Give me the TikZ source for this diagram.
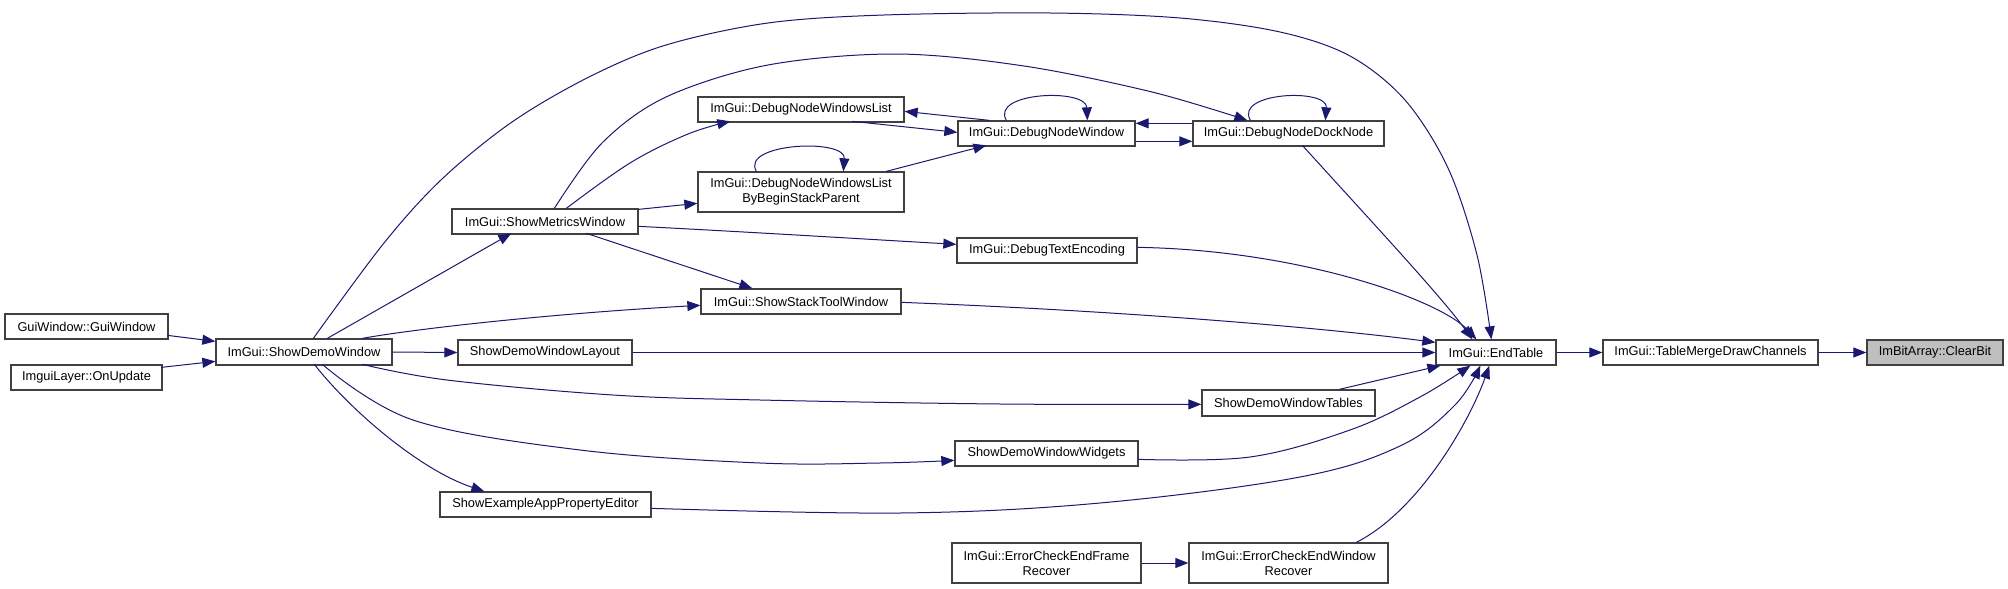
\documentclass[tikz,border=0pt]{standalone}
\usepackage{fontspec}
\setmainfont{Liberation Sans}
\usetikzlibrary{arrows.meta,calc}
\definecolor{edgec}{HTML}{191970}
\definecolor{boxc}{HTML}{404040}
\definecolor{hilite}{HTML}{BFBFBF}
\tikzset{
 box/.style={draw=boxc, line width=1.3pt, fill=white, inner sep=0pt, align=center, font=\fontsize{12.8}{15}\selectfont},
 edge/.style={draw=edgec, line width=1pt, -{Triangle[length=13pt,width=10pt]}},
}
\begin{document}
\begin{tikzpicture}[x=1pt,y=-1pt]
\useasboundingbox (0,0) rectangle (2008,589);
% nodes
\node[box, minimum width=163pt, minimum height=25pt] (gw) at (86.5,326.5) {GuiWindow::GuiWindow};
\node[box, minimum width=151pt, minimum height=25pt] (iu) at (86.5,377.5) {ImguiLayer::OnUpdate};
\node[box, minimum width=176pt, minimum height=26pt] (sdw) at (304,352) {ImGui::ShowDemoWindow};
\node[box, minimum width=186pt, minimum height=25pt] (smw) at (545,221.5) {ImGui::ShowMetricsWindow};
\node[box, minimum width=206pt, minimum height=25pt] (dnwl) at (801,109.5) {ImGui::DebugNodeWindowsList};
\node[box, minimum width=206pt, minimum height=40pt] (dnwlb) at (801,192) {ImGui::DebugNodeWindowsList\\ByBeginStackParent};
\node[box, minimum width=177pt, minimum height=25pt] (dnw) at (1046.5,133.5) {ImGui::DebugNodeWindow};
\node[box, minimum width=191pt, minimum height=25pt] (dndn) at (1288.5,133.5) {ImGui::DebugNodeDockNode};
\node[box, minimum width=180pt, minimum height=25pt] (dte) at (1047,250.5) {ImGui::DebugTextEncoding};
\node[box, minimum width=200pt, minimum height=25pt] (sstw) at (801,301.5) {ImGui::ShowStackToolWindow};
\node[box, minimum width=174pt, minimum height=25pt] (sdwl) at (545,352.5) {ShowDemoWindowLayout};
\node[box, minimum width=211pt, minimum height=25pt] (seape) at (545.5,504.5) {ShowExampleAppPropertyEditor};
\node[box, minimum width=173pt, minimum height=26pt] (sdwt) at (1288.5,403) {ShowDemoWindowTables};
\node[box, minimum width=183pt, minimum height=25pt] (sdww) at (1046.5,453.5) {ShowDemoWindowWidgets};
\node[box, minimum width=189pt, minimum height=40pt] (ecefr) at (1046.5,563) {ImGui::ErrorCheckEndFrame\\Recover};
\node[box, minimum width=199pt, minimum height=40pt] (ecewr) at (1288.5,563) {ImGui::ErrorCheckEndWindow\\Recover};
\node[box, minimum width=120pt, minimum height=25pt] (et) at (1496,352.5) {ImGui::EndTable};
\node[box, minimum width=215pt, minimum height=25pt] (tmdc) at (1710.5,352.5) {ImGui::TableMergeDrawChannels};
\node[box, fill=hilite, minimum width=136pt, minimum height=25pt] (cb) at (1935,352.5) {ImBitArray::ClearBit};
% helper coordinates
\coordinate (sA) at ($(sdw.north west)+(98,0)$);
\coordinate (eA) at ($(et.north west)+(56,0)$);
\coordinate (sB) at ($(smw.north west)+(103,0)$);
\coordinate (eB) at ($(dndn.north west)+(55,0)$);
\coordinate (sC) at ($(smw.north west)+(115,0)$);
\coordinate (eC) at ($(dnwl.north west)+(33,25)$);
\coordinate (sT) at ($(sdw.north west)+(147,26)$);
\coordinate (eT) at ($(sdwt.north west)+(0,15)$);
\coordinate (sW) at ($(sdw.north west)+(107,26)$);
\coordinate (eW) at ($(sdww.north west)+(0,20)$);
\coordinate (sP) at ($(seape.north east)+(0,17)$);
\coordinate (eP) at ($(et.south west)+(45,0)$);
\coordinate (sWE) at ($(sdww.north east)+(0,19)$);
\coordinate (eWE) at ($(et.south west)+(35,0)$);
% edges
\draw[edge] ($(gw.north west)+(163,22)$) -- ($(sdw.north west)+(0,3)$);
\draw[edge] ($(iu.north west)+(151,3)$) -- ($(sdw.north west)+(0,23)$);
\draw[edge] ($(sdw.north west)+(112,0)$) -- ($(smw.north west)+(60,25)$);
\draw[edge] plot[smooth, tension=0.55] coordinates {(sA) (384,243) (442,179) (512,122) (589,77) (666,45) (768,23) (884,15) (1050,13) (1180,18) (1280,32) (1350,56) (1405,100) (1448,168) (1477,255) (eA)};
\draw[edge] plot[smooth, tension=0.55] coordinates {(sB) (602,143) (666,97) (768,65) (896,54) (1024,66) (1152,92) (eB)};
\draw[edge] plot[smooth, tension=0.6] coordinates {(sC) (630,163) (688,134) (eC)};
\draw[edge] ($(sdw.north west)+(147,0)$) .. controls (420,328) and (560,313) .. ($(sstw.north west)+(0,17)$);
\draw[edge] (sdw.east) -- (sdwl.west);
\draw[edge] plot[smooth, tension=0.6] coordinates {(sT) (447,380) (613,395) (760,400) (1000,404) (eT)};
\draw[edge] plot[smooth, tension=0.6] coordinates {(sW) (413,420) (580,450) (760,463) (880,463) (eW)};
\draw[edge] ($(sdw.north west)+(99,26)$) .. controls (350,410) and (420,470) .. ($(seape.north west)+(45,0)$);
\draw[edge] ($(smw.north east)+(0,1)$) -- ($(dnwlb.north west)+(0,32)$);
\draw[edge] ($(smw.north east)+(0,18)$) .. controls (750,232) and (880,240) .. ($(dte.north west)+(0,7)$);
\draw[edge] ($(smw.north west)+(135,25)$) -- ($(sstw.north west)+(52,0)$);
\draw[edge] ($(dnwl.north west)+(155,25)$) -- ($(dnw.north west)+(0,12)$);
\draw[edge] ($(dnw.north west)+(32,0)$) -- ($(dnwl.north east)+(0,15)$);
\draw[edge] ($(dnw.north west)+(49,0)$) .. controls (990,92) and (1086,88) .. ($(dnw.north west)+(130,0)$);
\draw[edge] ($(dndn.north west)+(58,0)$) .. controls (1234,92) and (1328,88) .. ($(dndn.north west)+(133,0)$);
\draw[edge] ($(dnwlb.north west)+(59,0)$) .. controls (740,143) and (846,138) .. ($(dnwlb.north west)+(146,0)$);
\draw[edge] ($(dnwlb.north west)+(189,0)$) -- ($(dnw.north west)+(29,25)$);
\draw[edge] ($(dnw.north east)+(0,21)$) -- ($(dndn.north west)+(0,21)$);
\draw[edge] ($(dndn.north west)+(0,3)$) -- ($(dnw.north east)+(0,3)$);
\draw[edge] ($(dndn.north west)+(110,25)$) .. controls (1370,220) and (1440,295) .. ($(et.north west)+(37,0)$);
\draw[edge] ($(dte.north east)+(0,10)$) .. controls (1300,250) and (1440,300) .. ($(et.north west)+(41,0)$);
\draw[edge] ($(sstw.north east)+(0,14)$) .. controls (1100,310) and (1300,325) .. ($(et.north west)+(0,3)$);
\draw[edge] (sdwl.east) -- (et.west);
\draw[edge] ($(sdwt.north west)+(138,0)$) -- ($(et.south west)+(5,0)$);
\draw[edge] plot[smooth, tension=0.6] coordinates {(sWE) (1250,457) (1350,430) (1420,397) (eWE)};
\draw[edge] plot[smooth, tension=0.6] coordinates {(sP) (900,513) (1100,503) (1300,477) (1400,446) (1455,405) (eP)};
\draw[edge] ($(ecewr.north west)+(168,0)$) .. controls (1420,510) and (1470,420) .. ($(et.south west)+(54,0)$);
\draw[edge] (ecefr.east) -- (ecewr.west);
\draw[edge] (et.east) -- (tmdc.west);
\draw[edge] (tmdc.east) -- (cb.west);
\end{tikzpicture}
\end{document}
